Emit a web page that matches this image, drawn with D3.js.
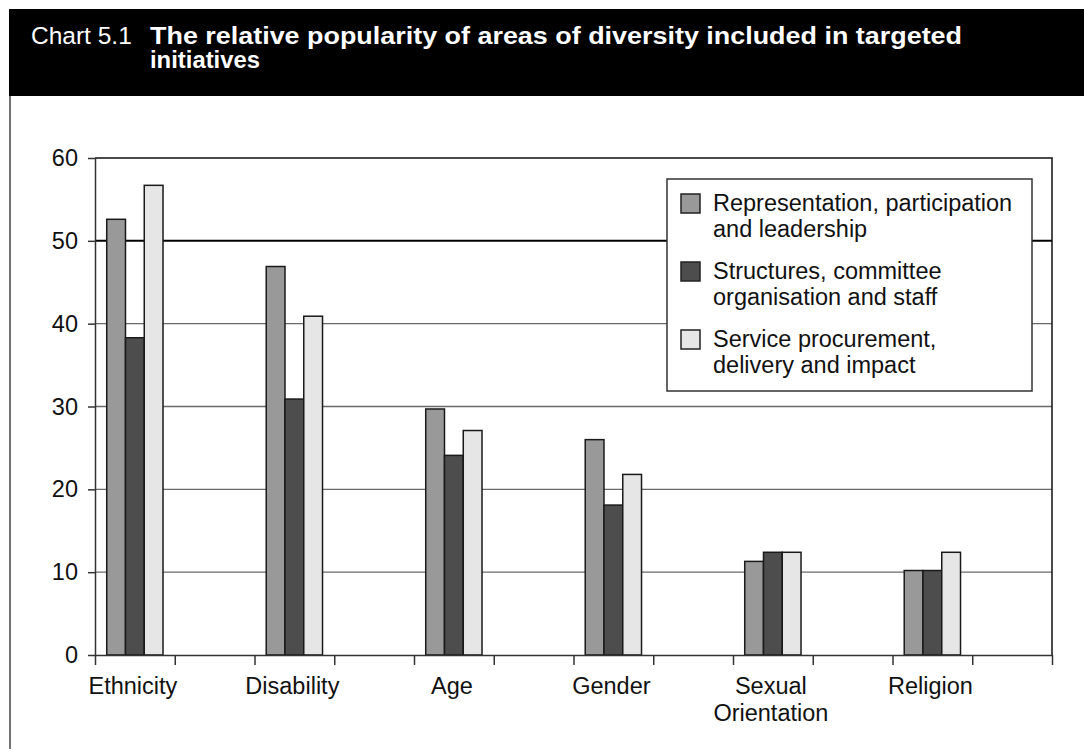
<!DOCTYPE html>
<html lang="en">
<head>
<meta charset="utf-8">
<title>Chart 5.1</title>
<script src="https://cdn.jsdelivr.net/npm/d3@7"></script>
<style>
  body { margin: 0; background: #fff; }
  svg { display: block; font-family: "Liberation Sans", Arial, sans-serif; }
  .grid line { stroke: #6a6a6a; stroke-width: 1.4px; }
  .bar { stroke: #1a1a1a; stroke-width: 1.5px; }
  .axis text { font-size: 23.5px; fill: #111; }
  .axis path, .axis line { stroke: #333; stroke-width: 1.5px; }
</style>
</head>
<body>
<script>
// ---- data ----
var categories = ["Ethnicity", "Disability", "Age", "Gender", "Sexual Orientation", "Religion"];
var seriesNames = ["Representation, participation and leadership",
                   "Structures, committee organisation and staff",
                   "Service procurement, delivery and impact"];
var representation = [52.6, 46.9, 29.7, 26.0, 11.3, 10.2];
var structures     = [38.3, 30.9, 24.1, 18.1, 12.4, 10.2];
var service        = [56.7, 40.9, 27.1, 21.8, 12.4, 12.4];
var yTicks = [0, 10, 20, 30, 40, 50, 60];

var colours = ["#999999", "#4d4d4d", "#e6e6e6"];
var seriesValues = [representation, structures, service];

// ---- size ----
var width = 1084, height = 749;
var plot = {left: 95, right: 1052, top: 158, bottom: 655};
var w = plot.right - plot.left, h = plot.bottom - plot.top;

var svg = d3.select("body").append("svg")
    .attr("width", width)
    .attr("height", height);

// header bar
svg.append("rect")
    .attr("x", 9).attr("y", 9)
    .attr("width", width - 9).attr("height", 87)
    .attr("fill", "#000");
svg.append("text")
    .attr("x", 31).attr("y", 44)
    .attr("fill", "#fff")
    .style("font-size", "24.5px")
    .text("Chart 5.1");
var title = svg.append("text")
    .attr("x", 150).attr("y", 44)
    .attr("fill", "#fff")
    .style("font-size", "23px")
    .style("font-weight", "bold");
title.append("tspan").attr("x", 150)
    .attr("textLength", 812).attr("lengthAdjust", "spacingAndGlyphs")
    .text("The relative popularity of areas of diversity included in targeted");
title.append("tspan").attr("x", 150).attr("dy", 24)
    .attr("textLength", 110).attr("lengthAdjust", "spacingAndGlyphs")
    .text("initiatives");

// left frame line
svg.append("line")
    .attr("x1", 10).attr("x2", 10)
    .attr("y1", 96).attr("y2", height)
    .attr("stroke", "#444").attr("stroke-width", 1.5);

var g = svg.append("g").attr("transform", "translate(" + plot.left + "," + plot.top + ")");

// scales
var y = d3.scaleLinear().domain([0, 60]).range([h, 0]);
// each category owns two slots: bars in the first, empty space in the second
var x = d3.scaleBand().domain(categories).range([0, w]);
var slot = x.bandwidth() / 2;
var xs = d3.scaleBand().domain(d3.range(seriesNames.length))
    .range([slot * 0.147, slot * 0.853]);

// gridlines
g.append("g").attr("class", "grid")
  .selectAll("line")
  .data(yTicks.filter(d => d > 0 && d < 60))
  .join("line")
    .attr("x1", 0).attr("x2", w)
    .attr("y1", d => y(d)).attr("y2", d => y(d))
    .style("stroke", d => d === 50 ? "#000" : null)
    .style("stroke-width", d => d === 50 ? "2px" : null);

// plot border (top and right)
g.append("path")
    .attr("d", "M0,0H" + w + "V" + h)
    .attr("fill", "none")
    .attr("stroke", "#111").attr("stroke-width", 1.5);

// bars
var groups = g.selectAll(".cat")
  .data(categories)
  .join("g")
    .attr("class", "cat")
    .attr("transform", d => "translate(" + x(d) + ",0)");

groups.selectAll("rect")
  .data((c, i) => seriesValues.map((s, j) => ({j: j, v: s[i]})))
  .join("rect")
    .attr("class", "bar")
    .attr("x", d => xs(d.j))
    .attr("width", xs.bandwidth())
    .attr("y", d => y(d.v))
    .attr("height", d => h - y(d.v))
    .attr("fill", d => colours[d.j]);

// y axis
var yAxis = g.append("g").attr("class", "axis")
    .call(d3.axisLeft(y).tickValues(yTicks).tickSize(7).tickPadding(10).tickSizeOuter(0));
yAxis.select(".domain").attr("stroke", "#111");

// x axis ticks at every slot boundary
var xLin = d3.scaleLinear().domain([0, categories.length * 2]).range([0, w]);
var xAxis = g.append("g").attr("class", "axis")
    .attr("transform", "translate(0," + h + ")")
    .call(d3.axisBottom(xLin).ticks(categories.length * 2).tickFormat("").tickSize(10).tickSizeOuter(0));
xAxis.select(".domain").attr("stroke", "#111");
xAxis.selectAll(".tick line").attr("stroke", "#555");

// x labels, centred under the bar groups
var labels = g.append("g").attr("class", "axis")
  .selectAll("text")
  .data(categories)
  .join("text")
    .attr("x", d => x(d) + slot / 2 - 2)
    .attr("y", h + 39)
    .attr("text-anchor", "middle");
labels.each(function(d) {
    var words = d.split(" ");
    var t = d3.select(this);
    words.forEach(function(wd, i) {
        t.append("tspan").attr("x", x(d) + slot / 2 - 2).attr("dy", i === 0 ? 0 : 27).text(wd);
    });
});

// legend
var legend = svg.append("g").attr("transform", "translate(667,179)");
legend.append("rect")
    .attr("width", 365).attr("height", 212)
    .attr("fill", "#fff")
    .attr("stroke", "#333").attr("stroke-width", 1.5);

var item = legend.selectAll(".item")
  .data(seriesNames)
  .join("g")
    .attr("class", "item")
    .attr("transform", (d, i) => "translate(14," + (15 + i * 68) + ")");
item.append("rect")
    .attr("width", 19).attr("height", 19)
    .attr("fill", (d, i) => colours[i])
    .attr("stroke", "#222").attr("stroke-width", 1.5);
var lt = item.append("text")
    .attr("x", 32).attr("y", 17)
    .style("font-size", "23.5px")
    .attr("fill", "#111");
lt.each(function(d) {
    // legend labels wrap onto two lines as in the original
    var lines = d === seriesNames[0] ? ["Representation, participation", "and leadership"]
              : d === seriesNames[1] ? ["Structures, committee", "organisation and staff"]
              : ["Service procurement,", "delivery and impact"];
    var t = d3.select(this);
    lines.forEach(function(l, i) {
        t.append("tspan").attr("x", 32).attr("dy", i === 0 ? 0 : 26).text(l);
    });
});
</script>
</body>
</html>
